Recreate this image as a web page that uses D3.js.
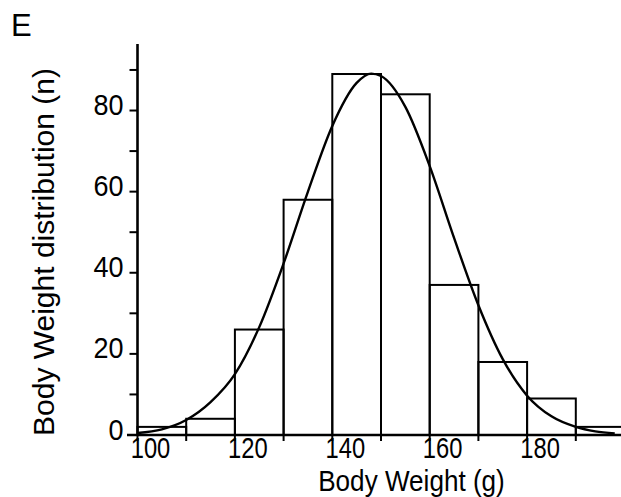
<!DOCTYPE html>
<html>
<head>
<meta charset="utf-8">
<script src="https://cdn.jsdelivr.net/npm/d3@7"></script>
<style>
  html, body { margin: 0; padding: 0; background: #fff; }
  svg { display: block; font-family: "Liberation Sans", Arial, sans-serif; }
</style>
</head>
<body>
<svg id="chart" width="621" height="497"></svg>
<script>
// Histogram bins (lower edge, g) and counts
const binStarts = [100, 110, 120, 130, 140, 150, 160, 170, 180, 190];
const binWidth = 10;
const counts = [2, 4, 26, 58, 89, 84, 37, 18, 9, 2];

// Fitted normal curve, sampled along body weight
const curveX = [100, 105, 110, 115, 120, 125, 130, 135, 140, 145, 148, 150, 155, 160, 165, 170, 175, 180, 185, 190, 194, 198];
const curveY = [0.5, 1.4, 3.7, 8.1, 15.0, 26.6, 42.3, 60.0, 76.2, 86.8, 89.1, 88.5, 80.9, 66.3, 48.6, 32.0, 18.7, 9.7, 4.6, 2.0, 0.9, 0.4];

// Axis ticks
const xTickValues = [100, 110, 120, 130, 140, 150, 160, 170, 180, 190, 200];
const xTickLabels = [100, 120, 140, 160, 180];
const yTickValues = [10, 20, 30, 40, 50, 60, 70, 80, 90];
const yTickLabels = [0, 20, 40, 60, 80];

const svg = d3.select("#chart");

const x = d3.scaleLinear().domain([100, 200]).range([137.5, 624.5]);
const y = d3.scaleLinear().domain([0, 96.4]).range([435, 44]);

// Bars
svg.append("g")
  .selectAll("rect")
  .data(binStarts.map((s, i) => ({ s, c: counts[i] })))
  .join("rect")
  .attr("x", d => x(d.s))
  .attr("y", d => y(d.c))
  .attr("width", d => x(d.s + binWidth) - x(d.s))
  .attr("height", d => y(0) - y(d.c))
  .attr("fill", "none")
  .attr("stroke", "#000")
  .attr("stroke-width", 2);

// Normal curve
const line = d3.line()
  .x((d, i) => x(curveX[i]))
  .y(d => y(d))
  .curve(d3.curveMonotoneX);

svg.append("path")
  .datum(curveY)
  .attr("d", line)
  .attr("fill", "none")
  .attr("stroke", "#000")
  .attr("stroke-width", 2.4);

// X axis
const xAxis = svg.append("g").attr("transform", `translate(0,${y(0)})`);
xAxis.append("line")
  .attr("x1", 127).attr("x2", 621)
  .attr("y1", 0).attr("y2", 0)
  .attr("stroke", "#000").attr("stroke-width", 2.5);
xAxis.selectAll("line.tick")
  .data(xTickValues)
  .join("line")
  .attr("class", "tick")
  .attr("x1", d => x(d)).attr("x2", d => x(d))
  .attr("y1", 0).attr("y2", 6)
  .attr("stroke", "#000").attr("stroke-width", 2);
xAxis.selectAll("text")
  .data(xTickLabels)
  .join("text")
  .attr("transform", d => `translate(${x(d) + 13},23) scale(0.82,1)`)
  .attr("text-anchor", "middle")
  .attr("font-size", 29)
  .attr("fill", "#000")
  .text(d => d);

// Y axis
const yAxis = svg.append("g").attr("transform", `translate(${x(100)},0)`);
yAxis.append("line")
  .attr("x1", 0).attr("x2", 0)
  .attr("y1", y(96.4)).attr("y2", y(0))
  .attr("stroke", "#000").attr("stroke-width", 2.6);
yAxis.selectAll("line.tick")
  .data(yTickValues)
  .join("line")
  .attr("class", "tick")
  .attr("x1", -8).attr("x2", 0)
  .attr("y1", d => y(d)).attr("y2", d => y(d))
  .attr("stroke", "#000").attr("stroke-width", 2);
yAxis.selectAll("text")
  .data(yTickLabels)
  .join("text")
  .attr("transform", d => `translate(-14,${y(d) + 4.5}) scale(0.9,1)`)
  .attr("text-anchor", "end")
  .attr("font-size", 30)
  .attr("fill", "#000")
  .text(d => d);

// Axis titles
svg.append("text")
  .attr("transform", "translate(411.5,490.5) scale(0.9,1)")
  .attr("text-anchor", "middle")
  .attr("font-size", 29)
  .attr("fill", "#000")
  .text("Body Weight (g)");

svg.append("text")
  .attr("transform", "translate(54,252) rotate(-90)")
  .attr("text-anchor", "middle")
  .attr("font-size", 30)
  .attr("fill", "#000")
  .text("Body Weight distribution (n)");

// Panel letter
svg.append("text")
  .attr("x", 11)
  .attr("y", 35.5)
  .attr("font-size", 31)
  .attr("fill", "#000")
  .text("E");
</script>
</body>
</html>
